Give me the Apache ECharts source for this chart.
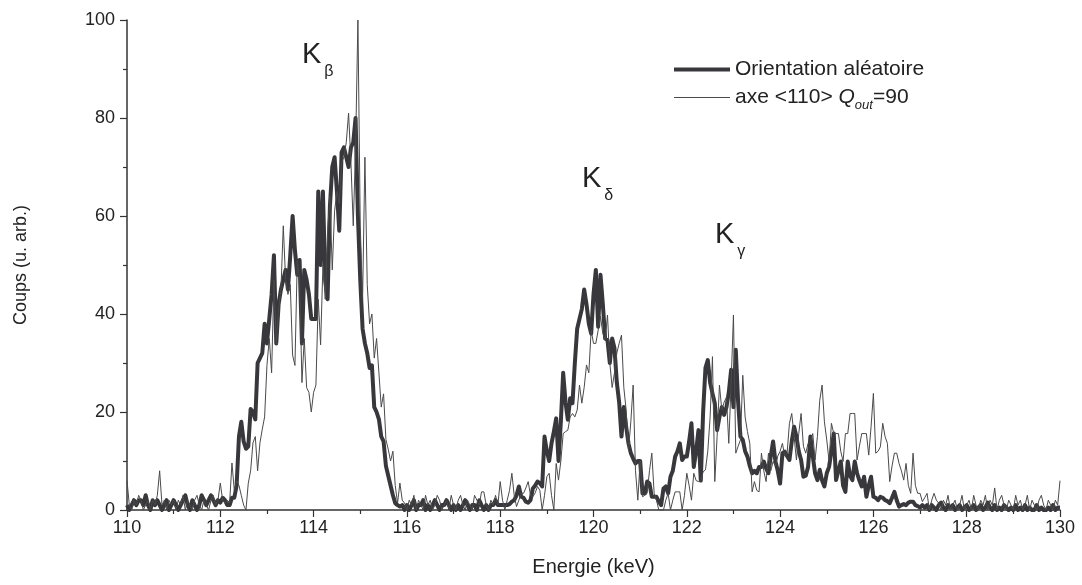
<!DOCTYPE html>
<html>
<head>
<meta charset="utf-8">
<script src="https://cdn.jsdelivr.net/npm/echarts@6/dist/echarts.min.js"></script>
<style>
    html, body {margin: 0; padding: 0; background: #fff;}
    #chart {width: 1082px; height: 585px;}
</style>
</head>
<body>
<div id="chart"></div>
<script>
// grille en energie : 110 -> 130 keV, pas de 0.05 keV
var eMin = 110;
var eStep = 0.05;

// Orientation aleatoire (trait epais), une ligne par keV
var randomCounts = [
    1,0,1,2,1,2,2,1,3,1,0,2,1,2,1,0,1,2,0,1,
    2,1,0,1,2,3,1,0,2,1,0,1,3,2,1,2,3,2,1,2,
    1.5,2.5,2,1,1,2.5,2.5,5,15,18,14,12.5,13,20.6,20,18.5,30,31,32,38,
    34,39,44,52,34,42,45,47,49,45,52,60,53,48,51,34,49,47,44,39,
    39,39,65,50,65,47,43,62,70,72,65,57,73,74,72,70,74,75,80,60,
    47,37,34,32,29,29.5,21,20,18.5,15,14,9,7,5,3,1.4,1,0.7,1,0,
    1,0,1,2,0,1,1,2,0,1,0,1,2,1,0,1,1,2,1,0,
    1,0,1,0,1,2,1,0,1,1,0,2,1,0,1,0,1,1,2,1,
    1,1,1,1,1.2,1.7,2,3,4.8,2.7,2.5,1.7,1.5,2,4.4,5,5.8,5.5,4.8,15,
    12,10,13.6,16,18.7,10,18,28,22,18.4,22.8,21.8,30,37,39,41,45,42,38,36,
    44,49,37.4,48,42,35,34.7,30,35,33,26,22,15,21,17,13.6,11.6,10.5,9.5,10,
    10,3.4,3.4,5.8,5.4,2.7,2.7,2.7,1.7,1,4.4,4.8,3.4,6.8,8,10.9,12,13.6,10.2,10.9,
    10.9,14,17.7,8.8,12,16.3,6,20,29,30.6,26,23.8,21.8,16.3,19,21,19.4,21,24,28.6,
    21,32.7,22,15,14.3,12,10.9,9,7.5,8,7.5,8.8,8.8,9.9,8.5,7.5,11,14,9.9,8,
    5.4,11.6,11.9,11,10.2,14,17,15,12,10.2,6.8,7,8.8,15,11,7.5,6.1,8.2,6,4.8,
    7.5,8.8,12,15.6,6.1,8,9.9,5,3.7,9.9,7,6.1,9.9,7.5,6,4.8,6.8,2.7,5,6.8,
    2.7,2.5,2,2.7,2.5,2,1.8,1.4,2.5,3.7,2,0.7,1,1.2,1,1.5,1.7,1.7,1,0.8,
    0.5,1,0.5,1,0,1,0.5,0,1,1.5,0.5,0,1,0.5,1,0,0.5,1,0,0.5,
    1,0,0.5,1,0,0.5,1,0,0.5,1.5,0.5,0,1,0,0.5,0,1,0.5,0,0.5,
    0,1,0,0.5,0,1,0,0.5,0,0,1,0,0.5,0,0,0.5,0,1,0,0.5,
    0.5
];

// axe <110> Qout=90 (trait fin)
var axialCounts = [
    6,1,0,2,1,3,2,0,1,2,0,2,1,3,8,1,2,0,2,1,
    2,0,2,1,3,0,2,1,0,2,3,1,0,2,1,0,2,3,1,2,
    5.5,2,1.4,2,1.5,9.6,4,6,5,3,1,0,5.5,8,13.7,15,8,13.7,16.5,19,
    29.5,35,28,47,34,41,45,58,47,44,46,31.6,29.5,51,47,26,35,25,24,20,
    24,25.5,43,33.7,50,43,57,64,49,61,65,62.5,71,72,75,81,71,58,74,100,
    58,43,72,46,38,40,31,35,28,21,23.7,14.4,12.4,10,12,5,1.4,5.5,2,1.4,
    0,2,1,3,0,2,1,0,3,1,2,0,1,3,2,0,1,2,0,3,
    1,0,2,3,1,0,2,1,0,3,2,1,3.7,3.7,1,0,2,1,3,1,
    5.8,2,0,2,4,7.5,3,0.7,2,3.4,3.4,4.5,5.8,3,2.7,3.5,4.8,4,0,3,
    6.8,7.5,3,0,9.5,6.1,10,15.6,16,16.3,19,19.7,19,20.4,25.5,21.8,25,29.6,28,36.7,
    34,34,36.7,39.5,36,34.7,39.8,30,25,28,32,34,35.7,25,20.4,12.2,18,25.5,8,2,
    10,2.7,3,3.4,8,11.6,3.4,2,0,0,0,2,3.4,0,2,3.7,3.7,3.7,0,3,
    7.5,5,2,7.5,6,5.8,6,7.8,8.2,12,19,31.3,5.8,15,25.5,20.4,22,23,13.6,25.9,
    39.8,11.6,13,14.3,27.5,19,16,13.6,3.7,5.8,4,3.7,11.6,8,5.8,11.6,8,9.9,9,11,
    12,13.6,11,11.6,17.7,19.7,15,10.2,15.6,19.7,13,11.6,13.6,14,15.6,10.2,15,22.4,25.5,18,
    14.3,9.9,17.7,15.6,15.6,15.6,12,9.9,15.6,15.6,19.7,19.7,19.7,10.2,13,15.6,15.6,15.6,11.2,17,
    23.8,11.6,12,12.9,17.7,15,13.6,5.8,9,11.6,11.6,9.5,8,6.1,9.5,5,3.4,11.6,5,3.4,
    3.4,1.7,2.5,3.4,0,2,3.4,2,1.4,0,2,1,3,0,1,2,0,1,3,0,
    1,2,0,3,1,0,2,1,3,0,2,1,4.5,0,2,3,1,0,2,1,
    0,3,1,2,0,1,3,0,2,1,0,2,3,1,0,2,1,0,2,1,
    6
];

var xTicks = {min: 110, max: 130, interval: 2};
var yTicks = {min: 0, max: 100, interval: 20};

var nameRandom = 'Orientation aléatoire';
var nameAxial = 'axe <110> Qout=90';

function pairs(values) {
    return values.map(function (v, i) {
        return [Math.round((eMin + i * eStep) * 100) / 100, v];
    });
}

var font = '"Liberation Sans", Arial, Helvetica, sans-serif';
var ink = '#222';
var thickColor = '#38373c';
var thinColor = '#4a4a4a';

// etiquette K avec indice grec
function peakLabel(left, top, greek) {
    return {
        type: 'text', left: left, top: top,
        style: {
            text: 'K{s|' + greek + '}', fontFamily: font, fontSize: 29, fill: ink,
            rich: {s: {fontFamily: font, fontSize: 16, fill: ink, padding: [34, 0, 0, 3]}}
        }
    };
}

var myChart = echarts.init(document.getElementById('chart'), null, {renderer: 'canvas'});

var option = {
    animation: false,
    backgroundColor: '#fff',
    textStyle: {fontFamily: font, color: ink},
    grid: {left: 127, right: 22, top: 20, bottom: 75, containLabel: false},
    legend: {
        orient: 'vertical',
        left: 672,
        top: 59,
        padding: 0,
        itemWidth: 56,
        itemHeight: 14,
        itemGap: 7,
        itemStyle: {opacity: 0},
        data: [
            {name: nameRandom, lineStyle: {width: 4, color: thickColor}},
            {name: nameAxial, lineStyle: {width: 1, color: thinColor}}
        ],
        textStyle: {
            fontFamily: font,
            fontSize: 21,
            color: ink,
            padding: [0, 0, 0, 0],
            rich: {
                it: {fontFamily: font, fontSize: 21, fontStyle: 'italic', color: ink},
                sub: {fontFamily: font, fontSize: 13, fontStyle: 'italic', color: ink, padding: [15, 0, 0, 0]}
            }
        },
        formatter: function (name) {
            if (name === nameAxial) {
                return 'axe <110> {it|Q}{sub|out}=90';
            }
            return name;
        }
    },
    xAxis: {
        type: 'value',
        min: xTicks.min,
        max: xTicks.max,
        interval: xTicks.interval,
        name: 'Energie (keV)',
        nameLocation: 'middle',
        nameGap: 47,
        nameTextStyle: {fontFamily: font, fontSize: 20, color: ink},
        axisLine: {onZero: false, lineStyle: {color: '#333', width: 1.5}},
        axisTick: {length: 7, lineStyle: {color: '#333', width: 1.2}},
        minorTick: {show: true, splitNumber: 2, length: 4, lineStyle: {color: '#333', width: 1.2}},
        splitLine: {show: false},
        axisLabel: {fontFamily: font, fontSize: 18, color: ink, margin: 9}
    },
    yAxis: {
        type: 'value',
        min: yTicks.min,
        max: yTicks.max,
        interval: yTicks.interval,
        name: 'Coups (u. arb.)',
        nameLocation: 'middle',
        nameGap: 97,
        nameTextStyle: {fontFamily: font, fontSize: 18, color: ink},
        axisLine: {show: true, lineStyle: {color: '#333', width: 1.5}},
        axisTick: {show: true, length: 7, lineStyle: {color: '#333', width: 1.2}},
        minorTick: {show: true, splitNumber: 2, length: 4, lineStyle: {color: '#333', width: 1.2}},
        splitLine: {show: false},
        axisLabel: {fontFamily: font, fontSize: 18, color: ink, margin: 12}
    },
    series: [
        {
            name: nameRandom,
            type: 'line',
            symbol: 'none',
            data: pairs(randomCounts),
            lineStyle: {color: thickColor, width: 4, join: 'round'},
            itemStyle: {color: thickColor},
            z: 2
        },
        {
            name: nameAxial,
            type: 'line',
            symbol: 'none',
            data: pairs(axialCounts),
            lineStyle: {color: thinColor, width: 1},
            itemStyle: {color: thinColor},
            z: 3
        }
    ],
    graphic: [
        peakLabel(302, 40, 'β'),
        peakLabel(582, 164, 'δ'),
        peakLabel(715, 220, 'γ')
    ]
};

myChart.setOption(option);
</script>
</body>
</html>
